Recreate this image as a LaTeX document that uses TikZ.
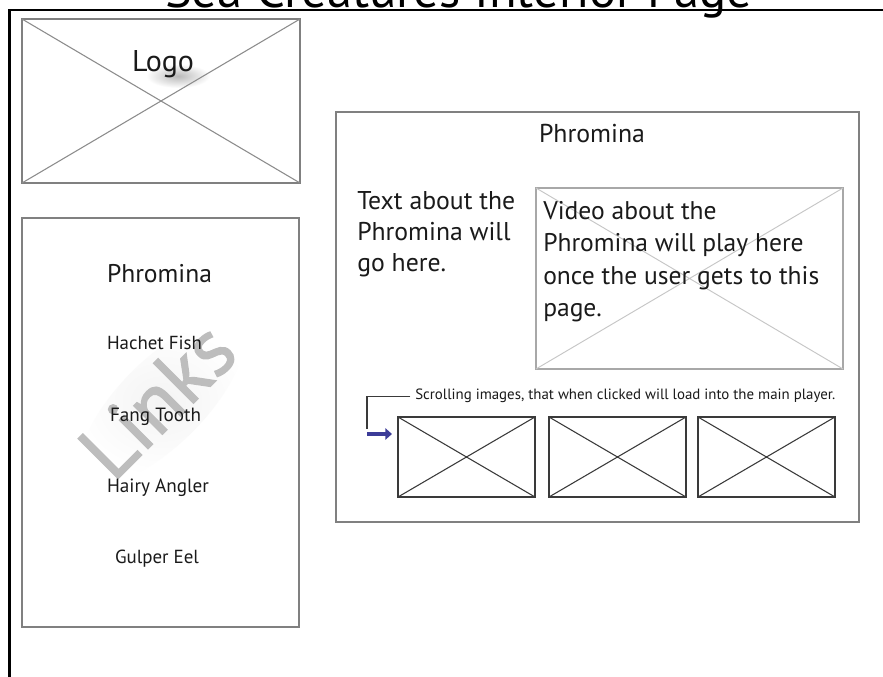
\documentclass[tikz,border=0pt]{standalone}
\usepackage{fontspec}
\setmainfont{PT Sans}
\newfontfamily\wmfont[FakeBold=1.6]{PT Sans}
\usetikzlibrary{arrows.meta,fit}
\definecolor{ink}{HTML}{1A1A1A}
\definecolor{boxgray}{HTML}{808080}
\definecolor{crossgray}{HTML}{8C8C8C}
\definecolor{vidborder}{HTML}{A8A8A8}
\definecolor{vidcross}{HTML}{C6C6C6}
\definecolor{thumbline}{HTML}{3A3A3A}
\definecolor{arrowblue}{HTML}{3C3C98}
\definecolor{watermark}{HTML}{BDBDBD}
\newlength\fitlen
\newcommand\fitfont[3]{%
  \settowidth\fitlen{\fontsize{10pt}{12pt}\selectfont #2}%
  \pgfmathsetmacro\fitsz{7.5*#1/\fitlen}%
  \pgfmathsetmacro\fitbs{0.75*#3}%
  \fontsize{\fitsz pt}{\fitbs pt}\selectfont}
\newcommand\placeholder[7]{%
  \node[#6, fit={(#2,#3) (#4,#5)}, inner sep=0pt, outer sep=0pt] (#1) {};
  \draw[#7] (#1.north west) -- (#1.south east) (#1.north east) -- (#1.south west);}
\begin{document}
\begin{tikzpicture}[x=0.75pt,y=-0.75pt,
  panel/.style={draw=boxgray, line width=1.1pt},
  logocross/.style={draw=crossgray, line width=0.8pt},
  vidframe/.style={draw=vidborder, line width=0.8pt},
  vidx/.style={draw=vidcross, line width=0.7pt},
  thumbframe/.style={draw=thumbline, line width=1.1pt},
  thumbx/.style={draw=thumbline, line width=0.8pt},
  label/.style={inner sep=0pt, text=ink},
  leader/.style={draw=thumbline, line width=0.8pt},
  bluearrow/.style={draw=arrowblue, line width=3.4pt, -{Triangle[length=5pt,width=8.5pt]}}]
\useasboundingbox (0,0) rectangle (883,677);
\clip (0,0) rectangle (883,677);
\fill[white] (0,0) rectangle (883,677);

% outer page frame
\draw[line width=1.7pt, black] (9.5,677) -- (9.5,10) -- (883,10);
\node[label, anchor=base, text=black, font=\fitfont{587}{Sea Creatures Interior Page}{50}] (title) at (458.5,8) {Sea Creatures Interior Page};

% logo
\shade[inner color=gray!55, outer color=white] (178,76) ellipse [x radius=24pt, y radius=9pt];
\placeholder{logo}{22}{19}{300}{183}{panel}{logocross}
\node[label, anchor=base, font=\fitfont{62}{Logo}{30}] (logotext) at (163,72) {Logo};

% links panel
\node[panel, fit={(22,218) (299,627)}, inner sep=0pt, outer sep=0pt] (links) {};
\shade[inner color=gray!9, outer color=white, rotate around={45:(162,402)}] (162,402) ellipse [x radius=80pt, y radius=32pt];
\node[inner sep=0pt, rotate=45, text=watermark, font={\wmfont\fitfont{180}{Links}{80}}] (linkswm) at (157,400) {Links};
\node[label, anchor=base, font=\fitfont{105}{Phromina}{30}] (lphromina) at (159.5,283) {Phromina};
\node[label, anchor=base, font=\fitfont{95}{Hachet Fish}{26}] (lhachet) at (154.5,350) {Hachet Fish};
\node[label, anchor=base, font=\fitfont{91}{Fang Tooth}{26}] (lfang) at (155.5,422) {Fang Tooth};
\node[label, anchor=base, font=\fitfont{102}{Hairy Angler}{26}] (lhairy) at (158,493) {Hairy Angler};
\node[label, anchor=base, font=\fitfont{84}{Gulper Eel}{26}] (lgulper) at (157,564) {Gulper Eel};

% main content panel
\node[panel, fit={(336,112) (859,522)}, inner sep=0pt, outer sep=0pt] (main) {};
\node[label, anchor=base, font=\fitfont{106}{Phromina}{30}] (mtitle) at (592,143) {Phromina};
\node[label, anchor=base west, align=left, font=\fitfont{158}{Text about the}{31}] (about) at (357,272) {Text about the\\Phromina will\\go here.};
\placeholder{video}{536}{188}{843}{369}{vidframe}{vidx}
\node[label, anchor=base west, align=left, font=\fitfont{276}{once the user gets to this}{32.5}] (vidtext) at (543,317) {Video about the\\Phromina will play here\\once the user gets to this\\page.};

% scrolling thumbnails
\placeholder{t1}{398}{417}{535}{497}{thumbframe}{thumbx}
\placeholder{t2}{549}{417}{686}{497}{thumbframe}{thumbx}
\placeholder{t3}{698}{417}{835}{497}{thumbframe}{thumbx}
\node[label, anchor=base west, font=\fitfont{420}{Scrolling images, that when clicked will load into the main player.}{16}] (scroll) at (415,400) {Scrolling images, that when clicked will load into the main player.};
\coordinate (drop) at (367,429);
\coordinate (arrowstart) at (367,434);
\coordinate (arrowtip) at (392,434);
\draw[leader, shorten <=3.5pt] (scroll.west) -| (drop);
\draw[bluearrow] (arrowstart) -- (arrowtip);
\end{tikzpicture}
\end{document}
